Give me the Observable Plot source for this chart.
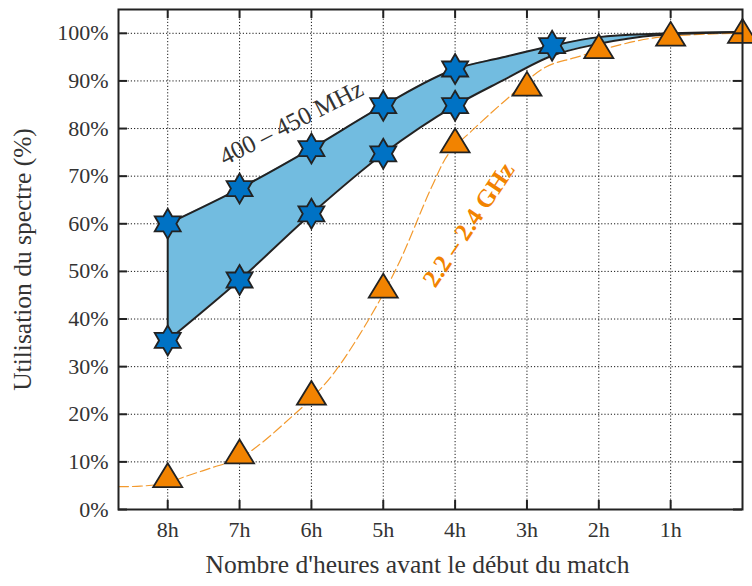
<!DOCTYPE html>
<html><head><meta charset="utf-8">
<script src="https://cdn.jsdelivr.net/npm/d3@7"></script>
<script src="https://cdn.jsdelivr.net/npm/@observablehq/plot@0.6"></script>
<style>body{margin:0;background:#fff} svg{font-family:"Liberation Serif","Times New Roman",serif !important}</style>
</head><body><div id="chart"></div>
<script>
// ---- data ----
const hourTicks = [8, 7, 6, 5, 4, 3, 2, 1];
const pctTicks = [0, 10, 20, 30, 40, 50, 60, 70, 80, 90, 100];

const bandHours = [8, 7, 6, 5, 4, 3.35, 2.65, 2, 1.2, 0];
const bandUpper = [60, 67.4, 75.8, 84.8, 92.5, 94.9, 97.4, 99.2, 99.9, 100.3];
const bandLower = [35.5, 48.2, 62.1, 74.7, 84.8, 90, 95.3, 97.8, 99.6, 100.3];

const starUpperHours = [8, 7, 6, 5, 4, 2.65];
const starUpperPct = [60, 67.4, 75.8, 84.8, 92.5, 97.4];
const starLowerHours = [8, 7, 6, 5, 4];
const starLowerPct = [35.5, 48.2, 62.1, 74.7, 84.8];

const triHours = [8, 7, 6, 5, 4, 3, 2, 1, 0];
const triPct = [7.2, 12.2, 24.5, 47, 77.5, 89.4, 97.3, 99.9, 100.5];

const fitHours = [8.685, 8.38, 8.0, 7.78, 7.4, 7.0, 6.7, 6.28, 6.0, 5.68, 5.21, 4.79, 4.33, 4.09, 3.77, 3.31, 2.75, 2.33, 1.25, 0];
const fitPct = [4.8, 4.9, 5.6, 6.8, 8.7, 10.8, 13.9, 19.4, 23.3, 28.8, 39.7, 51.5, 67.6, 74.7, 79.5, 85.8, 92.8, 94.9, 99, 100];

const labelTexts = ["400 – 450 MHz", "2.2 – 2.4 GHz"];
const labelHours = [6.28, 3.81];
const labelPct = [81.2, 59.8];

const xTitle = "Nombre d'heures avant le début du match";
const yTitle = "Utilisation du spectre (%)";

// ---- tables ----
const band = bandHours.map((h, i) => ({h, hi: bandUpper[i], lo: bandLower[i]}));
const stars = [
  ...starUpperHours.map((h, i) => ({h, p: starUpperPct[i]})),
  ...starLowerHours.map((h, i) => ({h, p: starLowerPct[i]}))
];
const tris = triHours.map((h, i) => ({h, p: triPct[i]}));
const fit = fitHours.map((h, i) => ({h, p: fitPct[i]}));

// ---- symbols ----
const hexagram = {
  draw(ctx, size) {
    const R = Math.sqrt(size / Math.PI), r = R / Math.sqrt(3);
    for (let k = 0; k < 12; k++) {
      const a = -Math.PI / 2 + k * Math.PI / 6, rr = k % 2 ? r : R;
      const x = rr * Math.cos(a), y = rr * Math.sin(a);
      k ? ctx.lineTo(x, y) : ctx.moveTo(x, y);
    }
    ctx.closePath();
  }
};
const triangle = {
  draw(ctx, size) {
    const r = Math.sqrt(size / Math.PI), w = r, h = 0.82 * r;
    ctx.moveTo(0, -h); ctx.lineTo(w, h); ctx.lineTo(-w, h); ctx.closePath();
  }
};

const W = 752, H = 586, mL = 118, mR = 10, mT = 9, mB = 77;
const fw = W - mL - mR, fh = H - mT - mB, tk = 9;
const ink = "#222";
const serif = "'Liberation Serif', 'Times New Roman', serif";

const chart = Plot.plot({
  width: W, height: H,
  marginLeft: mL, marginRight: mR, marginTop: mT, marginBottom: mB,
  style: {fontFamily: serif, fontSize: "22px", color: "#333", background: "#fff"},
  x: {type: "linear", domain: [8.685, 0]},
  y: {domain: [0, 105]},
  marks: [
    Plot.gridX(hourTicks, {stroke: "#000", strokeOpacity: 0.9, strokeDasharray: "1.2,2"}),
    Plot.gridY(pctTicks.slice(1), {stroke: "#000", strokeOpacity: 0.9, strokeDasharray: "1.2,2"}),
    Plot.areaY(band, {x: "h", y1: "lo", y2: "hi", curve: "monotone-x", fill: "#72BCE0"}),
    Plot.line(fit, {x: "h", y: "p", curve: "catmull-rom", stroke: "#F39A2E", strokeWidth: 1.2, strokeDasharray: "10,4"}),
    Plot.line(band, {x: "h", y: "hi", curve: "monotone-x", stroke: ink, strokeWidth: 2}),
    Plot.line(band, {x: "h", y: "lo", curve: "monotone-x", stroke: ink, strokeWidth: 2}),
    Plot.ruleX([band[0]], {x: "h", y1: "lo", y2: "hi", stroke: ink, strokeWidth: 2}),
    Plot.dot(stars, {x: "h", y: "p", symbol: hexagram, r: 15, fill: "#0072C4", stroke: ink, strokeWidth: 1.8}),
    Plot.dot(tris, {x: "h", y: "p", symbol: triangle, r: 14.5, fill: "#F28300", stroke: ink, strokeWidth: 1.8}),
    Plot.text([0], {x: () => labelHours[0], y: () => labelPct[0], text: () => labelTexts[0], rotate: -27, fontSize: 25, fill: "#333", fontFamily: serif}),
    Plot.text([1], {x: () => labelHours[1], y: () => labelPct[1], text: () => labelTexts[1], rotate: -56, fontSize: 25, fontWeight: "bold", fill: "#F28300", fontFamily: serif}),
    Plot.tickY(pctTicks, {y: d => d, insetRight: fw - tk, stroke: ink, strokeWidth: 2}),
    Plot.tickY(pctTicks, {y: d => d, insetLeft: fw - tk, stroke: ink, strokeWidth: 2}),
    Plot.tickX(hourTicks, {x: d => d, insetTop: fh - tk, stroke: ink, strokeWidth: 2}),
    Plot.tickX(hourTicks, {x: d => d, insetBottom: fh - tk, stroke: ink, strokeWidth: 2}),
    Plot.frame({stroke: ink, strokeWidth: 2}),
    Plot.axisY(pctTicks, {tickFormat: d => d + "%", tickSize: 0, tickPadding: 10, fontSize: 22, fill: "#333", label: null, fontFamily: serif}),
    Plot.axisX(hourTicks, {tickFormat: d => d + "h", tickSize: 0, tickPadding: 12, fontSize: 22, fill: "#333", label: null, fontFamily: serif}),
    Plot.text([yTitle], {frameAnchor: "left", textAnchor: "middle", dx: -96, rotate: -90, fontSize: 25.5, fill: "#333", fontFamily: serif}),
    Plot.text([xTitle], {frameAnchor: "bottom", textAnchor: "middle", dx: -13, dy: 63, fontSize: 25.5, fill: "#333", fontFamily: serif})
  ]
});
document.getElementById("chart").appendChild(chart);
</script>
</body></html>
